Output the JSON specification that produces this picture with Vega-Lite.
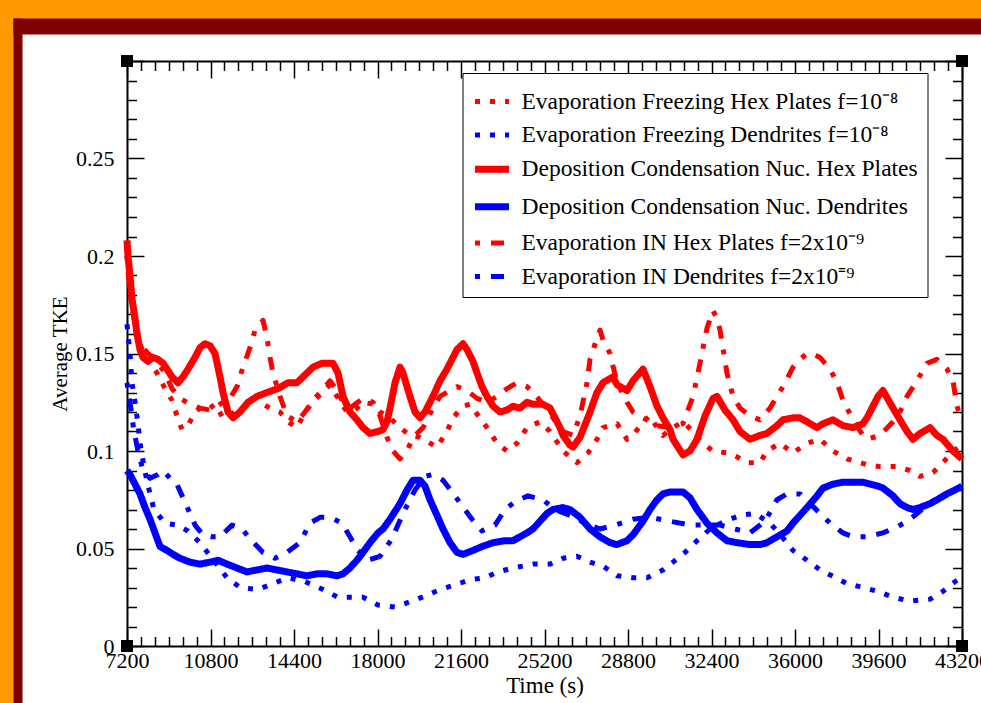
{
  "$schema": "https://vega.github.io/schema/vega-lite/v6.json",
  "width": 959,
  "height": 669,
  "autosize": "none",
  "padding": {"left": 22, "top": 34, "right": 0, "bottom": 0},
  "background": "#ff9900",
  "config": {
    "view": {"fill": "white", "stroke": null},
    "axis": {
      "grid": false,
      "domainColor": "black",
      "domainWidth": 2,
      "tickColor": "black",
      "tickWidth": 1.5,
      "labelFont": "Liberation Serif",
      "labelFontSize": 22,
      "labelColor": "black",
      "labelOverlap": false,
      "labelFlush": false,
      "labelBound": false,
      "titleFont": "Liberation Serif",
      "titleFontWeight": "normal",
      "titleColor": "black"
    }
  },
  "datasets": {
    "corners": [
      {"t": 7200, "v": 0}, {"t": 43200, "v": 0}, {"t": 7200, "v": 0.3}, {"t": 43200, "v": 0.3}
    ],
    "series": [
      {"s":"depoHex","t":7200,"v":0.208},{"s":"depoHex","t":7243,"v":0.2},{"s":"depoHex","t":7329,"v":0.19},{"s":"depoHex","t":7416,"v":0.178},{"s":"depoHex","t":7545,"v":0.168},{"s":"depoHex","t":7631,"v":0.16},{"s":"depoHex","t":7760,"v":0.152},{"s":"depoHex","t":7890,"v":0.148},{"s":"depoHex","t":8105,"v":0.146},{"s":"depoHex","t":8321,"v":0.148},{"s":"depoHex","t":8537,"v":0.147},{"s":"depoHex","t":8752,"v":0.145},{"s":"depoHex","t":8925,"v":0.142},{"s":"depoHex","t":9140,"v":0.138},{"s":"depoHex","t":9399,"v":0.135},{"s":"depoHex","t":9614,"v":0.138},{"s":"depoHex","t":9830,"v":0.142},{"s":"depoHex","t":10132,"v":0.148},{"s":"depoHex","t":10347,"v":0.153},{"s":"depoHex","t":10563,"v":0.155},{"s":"depoHex","t":10778,"v":0.154},{"s":"depoHex","t":10994,"v":0.15},{"s":"depoHex","t":11210,"v":0.138},{"s":"depoHex","t":11339,"v":0.13},{"s":"depoHex","t":11555,"v":0.12},{"s":"depoHex","t":11770,"v":0.117},{"s":"depoHex","t":12072,"v":0.12},{"s":"depoHex","t":12417,"v":0.125},{"s":"depoHex","t":12805,"v":0.128},{"s":"depoHex","t":13236,"v":0.13},{"s":"depoHex","t":13710,"v":0.132},{"s":"depoHex","t":14141,"v":0.135},{"s":"depoHex","t":14529,"v":0.135},{"s":"depoHex","t":14961,"v":0.14},{"s":"depoHex","t":15219,"v":0.143},{"s":"depoHex","t":15607,"v":0.145},{"s":"depoHex","t":16081,"v":0.145},{"s":"depoHex","t":16297,"v":0.14},{"s":"depoHex","t":16513,"v":0.128},{"s":"depoHex","t":16814,"v":0.12},{"s":"depoHex","t":17116,"v":0.116},{"s":"depoHex","t":17375,"v":0.112},{"s":"depoHex","t":17677,"v":0.109},{"s":"depoHex","t":18022,"v":0.11},{"s":"depoHex","t":18237,"v":0.111},{"s":"depoHex","t":18410,"v":0.115},{"s":"depoHex","t":18539,"v":0.122},{"s":"depoHex","t":18755,"v":0.135},{"s":"depoHex","t":18970,"v":0.143},{"s":"depoHex","t":19099,"v":0.14},{"s":"depoHex","t":19272,"v":0.133},{"s":"depoHex","t":19401,"v":0.128},{"s":"depoHex","t":19617,"v":0.12},{"s":"depoHex","t":19832,"v":0.117},{"s":"depoHex","t":20048,"v":0.12},{"s":"depoHex","t":20393,"v":0.128},{"s":"depoHex","t":20695,"v":0.136},{"s":"depoHex","t":20996,"v":0.142},{"s":"depoHex","t":21255,"v":0.148},{"s":"depoHex","t":21428,"v":0.152},{"s":"depoHex","t":21686,"v":0.155},{"s":"depoHex","t":21859,"v":0.152},{"s":"depoHex","t":22117,"v":0.146},{"s":"depoHex","t":22290,"v":0.14},{"s":"depoHex","t":22505,"v":0.133},{"s":"depoHex","t":22721,"v":0.128},{"s":"depoHex","t":22980,"v":0.123},{"s":"depoHex","t":23282,"v":0.12},{"s":"depoHex","t":23583,"v":0.121},{"s":"depoHex","t":23842,"v":0.123},{"s":"depoHex","t":24144,"v":0.122},{"s":"depoHex","t":24446,"v":0.125},{"s":"depoHex","t":24704,"v":0.124},{"s":"depoHex","t":25135,"v":0.124},{"s":"depoHex","t":25437,"v":0.122},{"s":"depoHex","t":25653,"v":0.117},{"s":"depoHex","t":25868,"v":0.112},{"s":"depoHex","t":25998,"v":0.108},{"s":"depoHex","t":26299,"v":0.103},{"s":"depoHex","t":26429,"v":0.102},{"s":"depoHex","t":26731,"v":0.107},{"s":"depoHex","t":27032,"v":0.116},{"s":"depoHex","t":27162,"v":0.12},{"s":"depoHex","t":27463,"v":0.13},{"s":"depoHex","t":27722,"v":0.135},{"s":"depoHex","t":28153,"v":0.138},{"s":"depoHex","t":28326,"v":0.134},{"s":"depoHex","t":28757,"v":0.131},{"s":"depoHex","t":29016,"v":0.136},{"s":"depoHex","t":29447,"v":0.142},{"s":"depoHex","t":29749,"v":0.133},{"s":"depoHex","t":30051,"v":0.123},{"s":"depoHex","t":30309,"v":0.117},{"s":"depoHex","t":30611,"v":0.111},{"s":"depoHex","t":30740,"v":0.106},{"s":"depoHex","t":31171,"v":0.098},{"s":"depoHex","t":31473,"v":0.1},{"s":"depoHex","t":31775,"v":0.106},{"s":"depoHex","t":32120,"v":0.118},{"s":"depoHex","t":32465,"v":0.127},{"s":"depoHex","t":32637,"v":0.128},{"s":"depoHex","t":32982,"v":0.121},{"s":"depoHex","t":33327,"v":0.116},{"s":"depoHex","t":33629,"v":0.11},{"s":"depoHex","t":34060,"v":0.106},{"s":"depoHex","t":34491,"v":0.108},{"s":"depoHex","t":34792,"v":0.109},{"s":"depoHex","t":35224,"v":0.113},{"s":"depoHex","t":35482,"v":0.116},{"s":"depoHex","t":35914,"v":0.117},{"s":"depoHex","t":36216,"v":0.117},{"s":"depoHex","t":36518,"v":0.115},{"s":"depoHex","t":36949,"v":0.112},{"s":"depoHex","t":37207,"v":0.114},{"s":"depoHex","t":37638,"v":0.116},{"s":"depoHex","t":38069,"v":0.113},{"s":"depoHex","t":38501,"v":0.112},{"s":"depoHex","t":38932,"v":0.114},{"s":"depoHex","t":39104,"v":0.117},{"s":"depoHex","t":39578,"v":0.128},{"s":"depoHex","t":39794,"v":0.131},{"s":"depoHex","t":40225,"v":0.122},{"s":"depoHex","t":40526,"v":0.116},{"s":"depoHex","t":40828,"v":0.11},{"s":"depoHex","t":41087,"v":0.106},{"s":"depoHex","t":41388,"v":0.109},{"s":"depoHex","t":41819,"v":0.112},{"s":"depoHex","t":42121,"v":0.108},{"s":"depoHex","t":42380,"v":0.106},{"s":"depoHex","t":42811,"v":0.1},{"s":"depoHex","t":43200,"v":0.096},

      {"s":"depoDend","t":7200,"v":0.09},{"s":"depoDend","t":7329,"v":0.088},{"s":"depoDend","t":7545,"v":0.083},{"s":"depoDend","t":7760,"v":0.078},{"s":"depoDend","t":7976,"v":0.071},{"s":"depoDend","t":8192,"v":0.065},{"s":"depoDend","t":8407,"v":0.058},{"s":"depoDend","t":8623,"v":0.051},{"s":"depoDend","t":8925,"v":0.049},{"s":"depoDend","t":9183,"v":0.047},{"s":"depoDend","t":9485,"v":0.045},{"s":"depoDend","t":9916,"v":0.043},{"s":"depoDend","t":10347,"v":0.042},{"s":"depoDend","t":10778,"v":0.043},{"s":"depoDend","t":11123,"v":0.044},{"s":"depoDend","t":11511,"v":0.042},{"s":"depoDend","t":11943,"v":0.04},{"s":"depoDend","t":12374,"v":0.038},{"s":"depoDend","t":12805,"v":0.039},{"s":"depoDend","t":13236,"v":0.04},{"s":"depoDend","t":13667,"v":0.039},{"s":"depoDend","t":14098,"v":0.038},{"s":"depoDend","t":14529,"v":0.037},{"s":"depoDend","t":14961,"v":0.036},{"s":"depoDend","t":15391,"v":0.037},{"s":"depoDend","t":15823,"v":0.037},{"s":"depoDend","t":16254,"v":0.036},{"s":"depoDend","t":16513,"v":0.037},{"s":"depoDend","t":16814,"v":0.04},{"s":"depoDend","t":17116,"v":0.044},{"s":"depoDend","t":17375,"v":0.048},{"s":"depoDend","t":17677,"v":0.053},{"s":"depoDend","t":18022,"v":0.058},{"s":"depoDend","t":18237,"v":0.06},{"s":"depoDend","t":18539,"v":0.065},{"s":"depoDend","t":18755,"v":0.069},{"s":"depoDend","t":18970,"v":0.073},{"s":"depoDend","t":19272,"v":0.08},{"s":"depoDend","t":19531,"v":0.085},{"s":"depoDend","t":19832,"v":0.085},{"s":"depoDend","t":20048,"v":0.082},{"s":"depoDend","t":20264,"v":0.075},{"s":"depoDend","t":20565,"v":0.067},{"s":"depoDend","t":20824,"v":0.06},{"s":"depoDend","t":21126,"v":0.053},{"s":"depoDend","t":21428,"v":0.048},{"s":"depoDend","t":21686,"v":0.047},{"s":"depoDend","t":22117,"v":0.049},{"s":"depoDend","t":22505,"v":0.051},{"s":"depoDend","t":22980,"v":0.053},{"s":"depoDend","t":23497,"v":0.054},{"s":"depoDend","t":23842,"v":0.054},{"s":"depoDend","t":24144,"v":0.056},{"s":"depoDend","t":24446,"v":0.058},{"s":"depoDend","t":24704,"v":0.06},{"s":"depoDend","t":25006,"v":0.064},{"s":"depoDend","t":25308,"v":0.068},{"s":"depoDend","t":25567,"v":0.07},{"s":"depoDend","t":25998,"v":0.071},{"s":"depoDend","t":26299,"v":0.07},{"s":"depoDend","t":26731,"v":0.066},{"s":"depoDend","t":27162,"v":0.06},{"s":"depoDend","t":27593,"v":0.056},{"s":"depoDend","t":28024,"v":0.053},{"s":"depoDend","t":28326,"v":0.052},{"s":"depoDend","t":28757,"v":0.054},{"s":"depoDend","t":29016,"v":0.057},{"s":"depoDend","t":29447,"v":0.064},{"s":"depoDend","t":29749,"v":0.07},{"s":"depoDend","t":30051,"v":0.075},{"s":"depoDend","t":30309,"v":0.078},{"s":"depoDend","t":30611,"v":0.079},{"s":"depoDend","t":31171,"v":0.079},{"s":"depoDend","t":31473,"v":0.076},{"s":"depoDend","t":31775,"v":0.07},{"s":"depoDend","t":32206,"v":0.063},{"s":"depoDend","t":32637,"v":0.058},{"s":"depoDend","t":33068,"v":0.054},{"s":"depoDend","t":33499,"v":0.053},{"s":"depoDend","t":34060,"v":0.052},{"s":"depoDend","t":34491,"v":0.052},{"s":"depoDend","t":34792,"v":0.053},{"s":"depoDend","t":35224,"v":0.056},{"s":"depoDend","t":35655,"v":0.059},{"s":"depoDend","t":35914,"v":0.063},{"s":"depoDend","t":36216,"v":0.067},{"s":"depoDend","t":36518,"v":0.071},{"s":"depoDend","t":36949,"v":0.077},{"s":"depoDend","t":37207,"v":0.081},{"s":"depoDend","t":37638,"v":0.083},{"s":"depoDend","t":38069,"v":0.084},{"s":"depoDend","t":38501,"v":0.084},{"s":"depoDend","t":38932,"v":0.084},{"s":"depoDend","t":39578,"v":0.082},{"s":"depoDend","t":39794,"v":0.081},{"s":"depoDend","t":40225,"v":0.077},{"s":"depoDend","t":40526,"v":0.073},{"s":"depoDend","t":40828,"v":0.071},{"s":"depoDend","t":41087,"v":0.07},{"s":"depoDend","t":41388,"v":0.071},{"s":"depoDend","t":41819,"v":0.073},{"s":"depoDend","t":42121,"v":0.075},{"s":"depoDend","t":42552,"v":0.078},{"s":"depoDend","t":42897,"v":0.08},{"s":"depoDend","t":43200,"v":0.082},

      {"s":"freezeHex","t":7200,"v":0.2},{"s":"freezeHex","t":7329,"v":0.185},{"s":"freezeHex","t":7545,"v":0.168},{"s":"freezeHex","t":7760,"v":0.155},{"s":"freezeHex","t":7976,"v":0.148},{"s":"freezeHex","t":8192,"v":0.145},{"s":"freezeHex","t":8493,"v":0.14},{"s":"freezeHex","t":8838,"v":0.132},{"s":"freezeHex","t":9140,"v":0.126},{"s":"freezeHex","t":9356,"v":0.118},{"s":"freezeHex","t":9571,"v":0.111},{"s":"freezeHex","t":9830,"v":0.113},{"s":"freezeHex","t":10132,"v":0.12},{"s":"freezeHex","t":10477,"v":0.123},{"s":"freezeHex","t":10778,"v":0.122},{"s":"freezeHex","t":10994,"v":0.124},{"s":"freezeHex","t":11339,"v":0.117},{"s":"freezeHex","t":11641,"v":0.118},{"s":"freezeHex","t":11943,"v":0.121},{"s":"freezeHex","t":12287,"v":0.123},{"s":"freezeHex","t":12632,"v":0.128},{"s":"freezeHex","t":12934,"v":0.125},{"s":"freezeHex","t":13365,"v":0.122},{"s":"freezeHex","t":13796,"v":0.12},{"s":"freezeHex","t":14141,"v":0.115},{"s":"freezeHex","t":14529,"v":0.112},{"s":"freezeHex","t":14874,"v":0.12},{"s":"freezeHex","t":15219,"v":0.125},{"s":"freezeHex","t":15607,"v":0.13},{"s":"freezeHex","t":15952,"v":0.134},{"s":"freezeHex","t":16254,"v":0.128},{"s":"freezeHex","t":16685,"v":0.12},{"s":"freezeHex","t":17116,"v":0.122},{"s":"freezeHex","t":17375,"v":0.125},{"s":"freezeHex","t":17806,"v":0.124},{"s":"freezeHex","t":18108,"v":0.12},{"s":"freezeHex","t":18539,"v":0.117},{"s":"freezeHex","t":18970,"v":0.112},{"s":"freezeHex","t":19401,"v":0.108},{"s":"freezeHex","t":19832,"v":0.107},{"s":"freezeHex","t":20264,"v":0.104},{"s":"freezeHex","t":20565,"v":0.102},{"s":"freezeHex","t":20996,"v":0.11},{"s":"freezeHex","t":21255,"v":0.117},{"s":"freezeHex","t":21686,"v":0.123},{"s":"freezeHex","t":21988,"v":0.124},{"s":"freezeHex","t":22290,"v":0.119},{"s":"freezeHex","t":22721,"v":0.112},{"s":"freezeHex","t":23152,"v":0.104},{"s":"freezeHex","t":23583,"v":0.1},{"s":"freezeHex","t":24014,"v":0.104},{"s":"freezeHex","t":24446,"v":0.112},{"s":"freezeHex","t":25006,"v":0.115},{"s":"freezeHex","t":25437,"v":0.11},{"s":"freezeHex","t":25998,"v":0.1},{"s":"freezeHex","t":26601,"v":0.094},{"s":"freezeHex","t":27075,"v":0.099},{"s":"freezeHex","t":27463,"v":0.106},{"s":"freezeHex","t":27722,"v":0.112},{"s":"freezeHex","t":28326,"v":0.114},{"s":"freezeHex","t":28757,"v":0.106},{"s":"freezeHex","t":29016,"v":0.108},{"s":"freezeHex","t":29447,"v":0.115},{"s":"freezeHex","t":29749,"v":0.118},{"s":"freezeHex","t":30051,"v":0.112},{"s":"freezeHex","t":30309,"v":0.108},{"s":"freezeHex","t":30740,"v":0.112},{"s":"freezeHex","t":31171,"v":0.115},{"s":"freezeHex","t":31603,"v":0.11},{"s":"freezeHex","t":32034,"v":0.104},{"s":"freezeHex","t":32465,"v":0.1},{"s":"freezeHex","t":33068,"v":0.099},{"s":"freezeHex","t":33499,"v":0.097},{"s":"freezeHex","t":33930,"v":0.094},{"s":"freezeHex","t":34491,"v":0.094},{"s":"freezeHex","t":34792,"v":0.1},{"s":"freezeHex","t":35353,"v":0.104},{"s":"freezeHex","t":35914,"v":0.099},{"s":"freezeHex","t":36518,"v":0.104},{"s":"freezeHex","t":37078,"v":0.106},{"s":"freezeHex","t":37638,"v":0.1},{"s":"freezeHex","t":38242,"v":0.096},{"s":"freezeHex","t":39104,"v":0.093},{"s":"freezeHex","t":39664,"v":0.092},{"s":"freezeHex","t":40397,"v":0.092},{"s":"freezeHex","t":40957,"v":0.09},{"s":"freezeHex","t":41388,"v":0.087},{"s":"freezeHex","t":41949,"v":0.089},{"s":"freezeHex","t":42380,"v":0.094},{"s":"freezeHex","t":42811,"v":0.1},{"s":"freezeHex","t":43200,"v":0.103},

      {"s":"inHex","t":7200,"v":0.2},{"s":"inHex","t":7329,"v":0.18},{"s":"inHex","t":7545,"v":0.165},{"s":"inHex","t":7760,"v":0.155},{"s":"inHex","t":8105,"v":0.15},{"s":"inHex","t":8493,"v":0.146},{"s":"inHex","t":8838,"v":0.14},{"s":"inHex","t":9140,"v":0.132},{"s":"inHex","t":9485,"v":0.127},{"s":"inHex","t":9916,"v":0.124},{"s":"inHex","t":10347,"v":0.122},{"s":"inHex","t":10778,"v":0.121},{"s":"inHex","t":11210,"v":0.124},{"s":"inHex","t":11641,"v":0.127},{"s":"inHex","t":11943,"v":0.133},{"s":"inHex","t":12201,"v":0.143},{"s":"inHex","t":12503,"v":0.153},{"s":"inHex","t":12719,"v":0.162},{"s":"inHex","t":13064,"v":0.167},{"s":"inHex","t":13236,"v":0.158},{"s":"inHex","t":13365,"v":0.148},{"s":"inHex","t":13495,"v":0.14},{"s":"inHex","t":13796,"v":0.128},{"s":"inHex","t":14098,"v":0.118},{"s":"inHex","t":14529,"v":0.115},{"s":"inHex","t":14874,"v":0.12},{"s":"inHex","t":15219,"v":0.126},{"s":"inHex","t":15521,"v":0.13},{"s":"inHex","t":15952,"v":0.136},{"s":"inHex","t":16254,"v":0.131},{"s":"inHex","t":16513,"v":0.125},{"s":"inHex","t":16814,"v":0.122},{"s":"inHex","t":17375,"v":0.127},{"s":"inHex","t":17806,"v":0.125},{"s":"inHex","t":18108,"v":0.118},{"s":"inHex","t":18410,"v":0.107},{"s":"inHex","t":18668,"v":0.1},{"s":"inHex","t":18970,"v":0.096},{"s":"inHex","t":19272,"v":0.1},{"s":"inHex","t":19531,"v":0.107},{"s":"inHex","t":19962,"v":0.112},{"s":"inHex","t":20393,"v":0.122},{"s":"inHex","t":20695,"v":0.128},{"s":"inHex","t":21126,"v":0.131},{"s":"inHex","t":21428,"v":0.133},{"s":"inHex","t":21859,"v":0.131},{"s":"inHex","t":22290,"v":0.127},{"s":"inHex","t":22721,"v":0.125},{"s":"inHex","t":23152,"v":0.128},{"s":"inHex","t":23583,"v":0.132},{"s":"inHex","t":24014,"v":0.135},{"s":"inHex","t":24446,"v":0.133},{"s":"inHex","t":24704,"v":0.13},{"s":"inHex","t":25135,"v":0.124},{"s":"inHex","t":25567,"v":0.117},{"s":"inHex","t":25998,"v":0.11},{"s":"inHex","t":26429,"v":0.108},{"s":"inHex","t":26731,"v":0.118},{"s":"inHex","t":27032,"v":0.135},{"s":"inHex","t":27162,"v":0.147},{"s":"inHex","t":27463,"v":0.158},{"s":"inHex","t":27593,"v":0.162},{"s":"inHex","t":27722,"v":0.157},{"s":"inHex","t":28024,"v":0.15},{"s":"inHex","t":28326,"v":0.135},{"s":"inHex","t":28757,"v":0.125},{"s":"inHex","t":29016,"v":0.12},{"s":"inHex","t":29447,"v":0.117},{"s":"inHex","t":29749,"v":0.115},{"s":"inHex","t":30051,"v":0.113},{"s":"inHex","t":30611,"v":0.112},{"s":"inHex","t":31171,"v":0.114},{"s":"inHex","t":31603,"v":0.128},{"s":"inHex","t":31904,"v":0.145},{"s":"inHex","t":32034,"v":0.153},{"s":"inHex","t":32206,"v":0.163},{"s":"inHex","t":32465,"v":0.172},{"s":"inHex","t":32637,"v":0.168},{"s":"inHex","t":32767,"v":0.162},{"s":"inHex","t":33068,"v":0.14},{"s":"inHex","t":33327,"v":0.128},{"s":"inHex","t":33629,"v":0.122},{"s":"inHex","t":34060,"v":0.118},{"s":"inHex","t":34491,"v":0.116},{"s":"inHex","t":34922,"v":0.122},{"s":"inHex","t":35224,"v":0.128},{"s":"inHex","t":35482,"v":0.133},{"s":"inHex","t":35914,"v":0.143},{"s":"inHex","t":36216,"v":0.147},{"s":"inHex","t":36518,"v":0.15},{"s":"inHex","t":36733,"v":0.15},{"s":"inHex","t":37078,"v":0.148},{"s":"inHex","t":37509,"v":0.142},{"s":"inHex","t":37811,"v":0.135},{"s":"inHex","t":38069,"v":0.126},{"s":"inHex","t":38501,"v":0.116},{"s":"inHex","t":38932,"v":0.108},{"s":"inHex","t":39104,"v":0.106},{"s":"inHex","t":39664,"v":0.108},{"s":"inHex","t":40225,"v":0.115},{"s":"inHex","t":40526,"v":0.12},{"s":"inHex","t":40828,"v":0.128},{"s":"inHex","t":41259,"v":0.136},{"s":"inHex","t":41690,"v":0.145},{"s":"inHex","t":42121,"v":0.147},{"s":"inHex","t":42552,"v":0.142},{"s":"inHex","t":42811,"v":0.136},{"s":"inHex","t":42983,"v":0.123},{"s":"inHex","t":43200,"v":0.115},

      {"s":"freezeDend","t":7200,"v":0.165},{"s":"freezeDend","t":7243,"v":0.16},{"s":"freezeDend","t":7329,"v":0.15},{"s":"freezeDend","t":7416,"v":0.135},{"s":"freezeDend","t":7545,"v":0.125},{"s":"freezeDend","t":7674,"v":0.114},{"s":"freezeDend","t":7760,"v":0.104},{"s":"freezeDend","t":7890,"v":0.095},{"s":"freezeDend","t":8019,"v":0.087},{"s":"freezeDend","t":8192,"v":0.078},{"s":"freezeDend","t":8364,"v":0.07},{"s":"freezeDend","t":8838,"v":0.063},{"s":"freezeDend","t":9356,"v":0.062},{"s":"freezeDend","t":9830,"v":0.059},{"s":"freezeDend","t":10347,"v":0.053},{"s":"freezeDend","t":10865,"v":0.045},{"s":"freezeDend","t":11511,"v":0.035},{"s":"freezeDend","t":12072,"v":0.03},{"s":"freezeDend","t":12848,"v":0.029},{"s":"freezeDend","t":13495,"v":0.032},{"s":"freezeDend","t":14141,"v":0.035},{"s":"freezeDend","t":14874,"v":0.033},{"s":"freezeDend","t":15650,"v":0.029},{"s":"freezeDend","t":16297,"v":0.025},{"s":"freezeDend","t":16901,"v":0.025},{"s":"freezeDend","t":17375,"v":0.025},{"s":"freezeDend","t":18022,"v":0.021},{"s":"freezeDend","t":18755,"v":0.02},{"s":"freezeDend","t":19487,"v":0.023},{"s":"freezeDend","t":20134,"v":0.026},{"s":"freezeDend","t":20695,"v":0.029},{"s":"freezeDend","t":21255,"v":0.031},{"s":"freezeDend","t":21988,"v":0.034},{"s":"freezeDend","t":22635,"v":0.035},{"s":"freezeDend","t":23195,"v":0.038},{"s":"freezeDend","t":23842,"v":0.04},{"s":"freezeDend","t":24704,"v":0.042},{"s":"freezeDend","t":25437,"v":0.042},{"s":"freezeDend","t":25998,"v":0.045},{"s":"freezeDend","t":26601,"v":0.046},{"s":"freezeDend","t":27162,"v":0.043},{"s":"freezeDend","t":27722,"v":0.041},{"s":"freezeDend","t":28326,"v":0.036},{"s":"freezeDend","t":29016,"v":0.035},{"s":"freezeDend","t":29619,"v":0.035},{"s":"freezeDend","t":30309,"v":0.039},{"s":"freezeDend","t":30740,"v":0.043},{"s":"freezeDend","t":31258,"v":0.048},{"s":"freezeDend","t":31775,"v":0.054},{"s":"freezeDend","t":32335,"v":0.06},{"s":"freezeDend","t":32982,"v":0.064},{"s":"freezeDend","t":33629,"v":0.067},{"s":"freezeDend","t":34275,"v":0.068},{"s":"freezeDend","t":34922,"v":0.063},{"s":"freezeDend","t":35439,"v":0.056},{"s":"freezeDend","t":35914,"v":0.049},{"s":"freezeDend","t":36518,"v":0.044},{"s":"freezeDend","t":37078,"v":0.039},{"s":"freezeDend","t":37595,"v":0.036},{"s":"freezeDend","t":38242,"v":0.032},{"s":"freezeDend","t":38932,"v":0.03},{"s":"freezeDend","t":39578,"v":0.028},{"s":"freezeDend","t":40225,"v":0.025},{"s":"freezeDend","t":40957,"v":0.023},{"s":"freezeDend","t":41819,"v":0.024},{"s":"freezeDend","t":42380,"v":0.028},{"s":"freezeDend","t":42897,"v":0.033},{"s":"freezeDend","t":43200,"v":0.035},

      {"s":"inDend","t":7200,"v":0.135},{"s":"inDend","t":7329,"v":0.125},{"s":"inDend","t":7502,"v":0.11},{"s":"inDend","t":7674,"v":0.1},{"s":"inDend","t":7890,"v":0.09},{"s":"inDend","t":8192,"v":0.086},{"s":"inDend","t":8537,"v":0.088},{"s":"inDend","t":8752,"v":0.09},{"s":"inDend","t":9054,"v":0.086},{"s":"inDend","t":9313,"v":0.084},{"s":"inDend","t":9614,"v":0.076},{"s":"inDend","t":9916,"v":0.068},{"s":"inDend","t":10132,"v":0.062},{"s":"inDend","t":10477,"v":0.057},{"s":"inDend","t":10865,"v":0.056},{"s":"inDend","t":11210,"v":0.056},{"s":"inDend","t":11727,"v":0.062},{"s":"inDend","t":12158,"v":0.06},{"s":"inDend","t":12503,"v":0.055},{"s":"inDend","t":13064,"v":0.048},{"s":"inDend","t":13581,"v":0.045},{"s":"inDend","t":14098,"v":0.048},{"s":"inDend","t":14659,"v":0.053},{"s":"inDend","t":15090,"v":0.063},{"s":"inDend","t":15521,"v":0.066},{"s":"inDend","t":15952,"v":0.066},{"s":"inDend","t":16469,"v":0.063},{"s":"inDend","t":16814,"v":0.056},{"s":"inDend","t":17159,"v":0.049},{"s":"inDend","t":17590,"v":0.044},{"s":"inDend","t":18108,"v":0.046},{"s":"inDend","t":18625,"v":0.055},{"s":"inDend","t":19099,"v":0.068},{"s":"inDend","t":19617,"v":0.08},{"s":"inDend","t":20048,"v":0.087},{"s":"inDend","t":20393,"v":0.088},{"s":"inDend","t":20824,"v":0.085},{"s":"inDend","t":21212,"v":0.079},{"s":"inDend","t":21643,"v":0.072},{"s":"inDend","t":22074,"v":0.065},{"s":"inDend","t":22505,"v":0.059},{"s":"inDend","t":23066,"v":0.062},{"s":"inDend","t":23497,"v":0.07},{"s":"inDend","t":23928,"v":0.074},{"s":"inDend","t":24489,"v":0.077},{"s":"inDend","t":25135,"v":0.075},{"s":"inDend","t":25653,"v":0.07},{"s":"inDend","t":26299,"v":0.067},{"s":"inDend","t":26946,"v":0.063},{"s":"inDend","t":27593,"v":0.06},{"s":"inDend","t":28240,"v":0.062},{"s":"inDend","t":29016,"v":0.065},{"s":"inDend","t":29749,"v":0.066},{"s":"inDend","t":30611,"v":0.064},{"s":"inDend","t":31473,"v":0.062},{"s":"inDend","t":32120,"v":0.062},{"s":"inDend","t":32767,"v":0.062},{"s":"inDend","t":33413,"v":0.06},{"s":"inDend","t":34060,"v":0.058},{"s":"inDend","t":34706,"v":0.064},{"s":"inDend","t":35224,"v":0.075},{"s":"inDend","t":35655,"v":0.078},{"s":"inDend","t":36216,"v":0.078},{"s":"inDend","t":36733,"v":0.072},{"s":"inDend","t":37509,"v":0.063},{"s":"inDend","t":38069,"v":0.058},{"s":"inDend","t":38501,"v":0.056},{"s":"inDend","t":39104,"v":0.056},{"s":"inDend","t":39794,"v":0.058},{"s":"inDend","t":40397,"v":0.061},{"s":"inDend","t":40957,"v":0.065},{"s":"inDend","t":41474,"v":0.07},{"s":"inDend","t":41949,"v":0.074},{"s":"inDend","t":42552,"v":0.078},{"s":"inDend","t":43200,"v":0.082}
    ]
  },
  "layer": [
    {
      "description": "Dark red frame band along the top and left edges, drawn as two wide axis domain lines",
      "data": {"name": "corners"},
      "mark": {"type": "point", "opacity": 0, "clip": true},
      "encoding": {
        "x": {
          "field": "t", "type": "quantitative",
          "scale": {"domain": [0, 1], "range": [-9, 1000], "nice": false, "zero": false},
          "axis": {"orient": "top", "offset": 8, "domainColor": "#800000", "domainWidth": 16, "ticks": false, "labels": false, "title": null}
        },
        "y": {
          "field": "v", "type": "quantitative",
          "scale": {"domain": [0, 1], "range": [800, -16], "nice": false, "zero": false},
          "axis": {"orient": "left", "offset": 4.5, "domainColor": "#800000", "domainWidth": 9, "ticks": false, "labels": false, "title": null}
        }
      }
    },
    {
      "data": {"name": "series"},
      "mark": {"type": "line", "strokeCap": "butt", "strokeJoin": "round"},
      "encoding": {
        "x": {
          "field": "t", "type": "quantitative",
          "scale": {"domain": [7200, 43200], "range": [105, 940], "nice": false, "zero": false},
          "axis": {
            "orient": "bottom", "offset": -57,
            "values": [7200,7800,8400,9000,9600,10200,10800,11400,12000,12600,13200,13800,14400,15000,15600,16200,16800,17400,18000,18600,19200,19800,20400,21000,21600,22200,22800,23400,24000,24600,25200,25800,26400,27000,27600,28200,28800,29400,30000,30600,31200,31800,32400,33000,33600,34200,34800,35400,36000,36600,37200,37800,38400,39000,39600,40200,40800,41400,42000,42600,43200],
            "format": "d",
            "labelExpr": "datum.value % 3600 === 0 ? datum.label : ''",
            "tickSize": {"condition": {"test": "datum.value % 3600 === 0", "value": -17}, "value": -9.5},
            "labelPadding": 21.5,
            "title": "Time (s)", "titleFontSize": 23, "titleBaseline": "top", "titleY": 28
          }
        },
        "y": {
          "field": "v", "type": "quantitative",
          "scale": {"domain": [0, 0.3], "range": [612, 27], "nice": false, "zero": false},
          "axis": {
            "orient": "left", "offset": -105,
            "values": [0,0.01,0.02,0.03,0.04,0.05,0.06,0.07,0.08,0.09,0.1,0.11,0.12,0.13,0.14,0.15,0.16,0.17,0.18,0.19,0.2,0.21,0.22,0.23,0.24,0.25,0.26,0.27,0.28,0.29,0.3],
            "labelExpr": "abs(datum.value*20 - round(datum.value*20)) < 0.001 && datum.value < 0.29 ? format(datum.value, '~g') : ''",
            "tickSize": {"condition": {"test": "abs(datum.value*20 - round(datum.value*20)) < 0.001", "value": -17}, "value": -9.5},
            "labelPadding": 30,
            "title": "Average TKE", "titleFontSize": 21, "titleBaseline": "bottom", "titleX": -57
          }
        },
        "color": {
          "field": "s", "type": "nominal",
          "scale": {
            "domain": ["freezeHex", "freezeDend", "depoHex", "depoDend", "inHex", "inDend"],
            "range": ["#ff0000", "#0000ff", "#ff0000", "#0000ff", "#ff0000", "#0000ff"]
          },
          "legend": {
            "title": null,
            "orient": "none",
            "legendX": 440.5,
            "legendY": 39,
            "padding": 9,
            "fillColor": "white",
            "strokeColor": "black",
            "symbolType": "stroke",
            "symbolSize": 1156,
            "labelFont": "Liberation Serif",
            "labelFontSize": 23.5,
            "labelColor": "black",
            "labelLimit": 0,
            "labelOffset": 9,
            "rowPadding": 2.4,
            "labelExpr": "datum.value === 'freezeHex' ? 'Evaporation Freezing Hex Plates f=10⁻⁸' : datum.value === 'freezeDend' ? 'Evaporation Freezing Dendrites f=10⁻⁸' : datum.value === 'depoHex' ? 'Deposition Condensation Nuc. Hex Plates' : datum.value === 'depoDend' ? 'Deposition Condensation Nuc. Dendrites' : datum.value === 'inHex' ? 'Evaporation IN Hex Plates f=2x10⁻⁹' : 'Evaporation IN  Dendrites f=2x10⁼⁹'"
          }
        },
        "strokeDash": {
          "field": "s", "type": "nominal",
          "scale": {
            "domain": ["freezeHex", "freezeDend", "depoHex", "depoDend", "inHex", "inDend"],
            "range": [[5, 10], [5, 10], [1, 0], [1, 0], [5, 11, 13, 11], [5, 11, 13, 11]]
          }
        },
        "strokeWidth": {
          "field": "s", "type": "nominal",
          "scale": {
            "type": "ordinal",
            "domain": ["freezeHex", "freezeDend", "depoHex", "depoDend", "inHex", "inDend"],
            "range": [5, 5, 7, 7, 5, 5]
          }
        }
      }
    },
    {
      "data": {"name": "corners"},
      "mark": {"type": "point", "shape": "square", "filled": true, "size": 144, "color": "black", "opacity": 1},
      "encoding": {
        "x": {
          "field": "t", "type": "quantitative",
          "scale": {"domain": [7200, 43200], "range": [105, 940], "nice": false, "zero": false},
          "axis": {
            "orient": "top", "offset": -27, "labels": false, "title": null,
            "values": [7200,7800,8400,9000,9600,10200,10800,11400,12000,12600,13200,13800,14400,15000,15600,16200,16800,17400,18000,18600,19200,19800,20400,21000,21600,22200,22800,23400,24000,24600,25200,25800,26400,27000,27600,28200,28800,29400,30000,30600,31200,31800,32400,33000,33600,34200,34800,35400,36000,36600,37200,37800,38400,39000,39600,40200,40800,41400,42000,42600,43200],
            "tickSize": {"condition": {"test": "datum.value % 3600 === 0", "value": -17}, "value": -9.5}
          }
        },
        "y": {
          "field": "v", "type": "quantitative",
          "scale": {"domain": [0, 0.3], "range": [612, 27], "nice": false, "zero": false},
          "axis": {
            "orient": "right", "offset": -19, "labels": false, "title": null,
            "values": [0,0.01,0.02,0.03,0.04,0.05,0.06,0.07,0.08,0.09,0.1,0.11,0.12,0.13,0.14,0.15,0.16,0.17,0.18,0.19,0.2,0.21,0.22,0.23,0.24,0.25,0.26,0.27,0.28,0.29,0.3],
            "tickSize": {"condition": {"test": "abs(datum.value*20 - round(datum.value*20)) < 0.001", "value": -17}, "value": -9.5}
          }
        }
      }
    }
  ],
  "resolve": {
    "scale": {"x": "independent", "y": "independent"},
    "axis": {"x": "independent", "y": "independent"}
  }
}
